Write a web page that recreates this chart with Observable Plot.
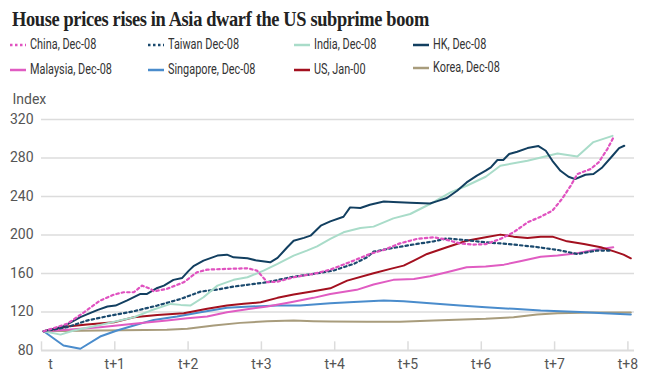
<!DOCTYPE html>
<html>
<head>
<meta charset="utf-8">
<script src="https://cdn.jsdelivr.net/npm/d3@7"></script>
<script src="https://cdn.jsdelivr.net/npm/@observablehq/plot@0.6"></script>
<style>
  html, body { margin: 0; padding: 0; background: #fff; }
  #wrap { position: relative; width: 651px; height: 383px; overflow: hidden; }
  #title { position: absolute; left: 12px; top: 9px; font-family: "Liberation Serif", serif; font-weight: bold; font-size: 21px; line-height: 21px; color: #222; white-space: nowrap; letter-spacing: -0.4px; transform: scaleX(0.875); transform-origin: 0 0; }
  .leg { position: absolute; font-family: Roboto, sans-serif; font-size: 14.5px; line-height: 16px; color: #333; white-space: nowrap; display: flex; align-items: center; }
  .leg svg { margin-right: 4px; }
  .leg span { display: inline-block; transform: scaleX(0.75); transform-origin: 0 50%; }
  #chart { position: absolute; left: 0; top: 85px; }
</style>
</head>
<body>
<div id="wrap">
  <div id="title">House prices rises in Asia dwarf the US subprime boom</div>
  <div id="legend"></div>
  <div id="chart"></div>
</div>
<script>
// ---- data (t = years from start, value = index) ----
const seriesNames = ["China, Dec-08", "Taiwan Dec-08", "India, Dec-08", "HK, Dec-08", "Malaysia, Dec-08", "Singapore, Dec-08", "US, Jan-00", "Korea, Dec-08"];
const seriesColors = ["#e052c0", "#1b4a6e", "#a9dcc9", "#123f60", "#e05cc2", "#4a8ccc", "#a3101f", "#a89c7c"];
const seriesDashed = [true, true, false, false, false, false, false, false];

const china = [[0.03,100],[0.35,107.7],[0.58,119.7],[0.80,131.9],[0.99,138.1],[1.12,140.5],[1.26,140.5],[1.37,147.4],[1.49,144],[1.53,141.5],[1.71,144],[1.94,150.9],[2.12,161.2],[2.26,164],[2.53,164.8],[2.81,165.4],[2.94,163],[3.08,151],[3.22,151.5],[3.44,156.1],[3.71,159.6],[3.94,164],[4.26,173.4],[4.48,180.3],[4.67,184.5],[4.89,191.3],[5.12,195.9],[5.35,197.6],[5.48,195.9],[5.71,191.3],[5.89,190],[6.06,190.5],[6.26,195.9],[6.44,202.8],[6.63,213.1],[6.81,219],[6.97,225.3],[7.10,237.4],[7.22,251.2],[7.31,263.3],[7.49,268.5],[7.60,275.4],[7.72,289.3],[7.80,301]];
const taiwan = [[0.03,100],[0.35,104.2],[0.62,111.1],[0.94,116.3],[1.26,120.8],[1.58,126.7],[1.90,133.6],[2.17,141.2],[2.40,143.3],[2.62,146.4],[2.90,149.2],[3.08,150.9],[3.40,156.1],[3.71,159.6],[3.98,163],[4.26,170],[4.44,176.8],[4.53,182.7],[4.80,186.6],[5.12,190.7],[5.35,193.4],[5.53,196.5],[5.76,194.9],[6.06,192.4],[6.35,190.7],[6.72,187.9],[7.04,184.5],[7.31,180.3],[7.58,183.8],[7.76,183.8]];
const india = [[0.03,100],[0.26,96.5],[0.44,100.8],[0.80,106.6],[1.26,114.6],[1.49,121.5],[1.76,128.4],[1.90,127.4],[2.03,126.7],[2.21,135.3],[2.40,147.4],[2.62,153.4],[2.81,156.1],[3.03,163],[3.22,170],[3.44,178.6],[3.62,183.8],[3.76,188.2],[3.94,195.9],[4.12,202.8],[4.35,207.3],[4.53,208.7],[4.80,217.3],[5.03,221.8],[5.30,232.2],[5.58,244.3],[5.80,251.2],[6.06,260.5],[6.26,272],[6.63,277.1],[7.04,284.7],[7.31,281.5],[7.53,296.5],[7.79,303]];
const hk = [[0.03,100],[0.30,105],[0.53,114.6],[0.76,122],[0.90,125.7],[1.01,126.7],[1.17,132],[1.35,138.8],[1.44,138.8],[1.58,145],[1.67,147.4],[1.80,153.4],[1.92,155.4],[2.01,163],[2.08,168],[2.21,173.4],[2.40,178.6],[2.53,179.6],[2.62,176.8],[2.81,175.8],[2.94,173.4],[3.12,171.6],[3.22,176.2],[3.35,187],[3.44,194],[3.58,197],[3.67,199.3],[3.81,209.7],[3.94,214.2],[4.12,219],[4.21,228.7],[4.35,228.1],[4.48,231.5],[4.67,234.9],[4.80,234.3],[5.03,233.6],[5.30,232.8],[5.39,234.9],[5.53,238.4],[5.67,246],[5.80,254.6],[5.94,261.6],[6.06,266.8],[6.13,270.2],[6.22,277.9],[6.30,277.9],[6.38,284.1],[6.49,286.5],[6.63,290.3],[6.78,292.4],[6.88,287.5],[6.97,277.1],[7.08,266.7],[7.19,260.5],[7.28,258.1],[7.42,262.6],[7.53,263.3],[7.65,270.2],[7.79,282.3],[7.88,290.3],[7.95,292.7]];
const malaysia = [[0.03,100],[0.35,101.5],[0.80,104.2],[1.26,107.7],[1.71,111.1],[1.99,113.5],[2.26,115.3],[2.53,119.7],[2.85,123.3],[3.08,125.7],[3.40,130.1],[3.71,134.7],[3.94,138.8],[4.30,143],[4.53,148.5],[4.80,153.4],[5.08,154.4],[5.30,157.1],[5.53,161.2],[5.80,166.4],[6.06,167.2],[6.31,169.2],[6.53,172.7],[6.81,177.5],[7.04,178.6],[7.31,181],[7.53,184.5],[7.80,187.2]];
const singapore = [[0.03,100],[0.30,85.2],[0.53,81.8],[0.80,94.5],[1.03,100.8],[1.26,105.9],[1.53,111.8],[1.85,115.3],[2.17,119.7],[2.53,124.3],[2.85,125.7],[3.22,126.7],[3.53,126.7],[3.94,129.1],[4.26,130.5],[4.67,131.9],[4.94,131.2],[5.30,129.1],[5.71,126.7],[6.06,124.9],[6.44,123.3],[6.81,121.5],[7.35,120.1],[7.67,118.7],[8.04,117.4]];
const us = [[0.03,100],[0.35,104.9],[0.62,107],[0.99,109.4],[1.26,114.6],[1.58,117],[1.94,118.7],[2.26,123.3],[2.53,126.7],[2.76,128.5],[2.99,130.1],[3.22,134.7],[3.44,138.1],[3.71,141.5],[3.94,144.6],[4.17,152.6],[4.53,160.2],[4.76,164.8],[4.94,168.2],[5.08,173.4],[5.26,180.3],[5.53,187.2],[5.80,194.1],[6.06,197.6],[6.26,200.4],[6.44,198.3],[6.63,196.9],[6.81,198.3],[6.97,198.3],[7.17,193.4],[7.40,190.7],[7.63,187.2],[7.81,183],[7.94,179.6],[8.04,175.8]];
const korea = [[0.03,100],[0.80,100.8],[1.71,101.5],[1.99,102.5],[2.35,105.9],[2.71,108.7],[3.08,110.4],[3.44,111.1],[3.71,110.4],[3.94,110.1],[4.44,109.8],[4.89,109.8],[5.35,111.1],[6.06,112.9],[6.44,114.6],[6.76,117.4],[7.04,118.7],[7.53,119.4],[8.04,119.4]];

const xTicks = [0, 1, 2, 3, 4, 5, 6, 7, 8];
const xTickLabels = ["t", "t+1", "t+2", "t+3", "t+4", "t+5", "t+6", "t+7", "t+8"];
const yTicks = [80, 120, 160, 200, 240, 280, 320];
const yLabel = "Index";

const seriesData = [china, taiwan, india, hk, malaysia, singapore, us, korea];
const drawOrder = [7, 5, 4, 6, 1, 2, 3, 0];

// ---- legend ----
const legendCols = [10, 148, 294, 413];
const legendRows = [37, 62];
const legend = document.getElementById("legend");
seriesNames.forEach((name, i) => {
  const col = i % 4, row = Math.floor(i / 4);
  const d = document.createElement("div");
  d.className = "leg";
  d.style.left = legendCols[col] + "px";
  d.style.top = (legendRows[row] - (i === 7 ? 2 : 0)) + "px";
  const dash = seriesDashed[i] ? 'stroke-dasharray="2.5,2.5"' : "";
  d.innerHTML = `<svg width="16" height="16"><line x1="0" x2="16" y1="8" y2="8" stroke="${seriesColors[i]}" stroke-width="2.5" ${dash}/></svg><span>${name}</span>`;
  legend.appendChild(d);
});

// ---- chart ----
const rows = seriesData.flatMap((arr, i) => arr.map(([t, v]) => ({series: seriesNames[i], t, v})));
const font = `Roboto, sans-serif`;

const marks = [
  Plot.gridY(yTicks.filter(d => d > 80), {stroke: "#dcdcdc", strokeOpacity: 1, strokeWidth: 1.5}),
  Plot.ruleY([80], {stroke: "#dcdcdc", strokeWidth: 2}),
  Plot.ruleX(xTicks, {y1: 80, y2: 89, stroke: "#dcdcdc", strokeWidth: 1.5}),
  Plot.axisY(yTicks, {tickSize: 0, tickPadding: 8, fontSize: 14, fill: "#555", label: null}),
  Plot.axisX(xTicks.slice(1), {tickSize: 0, tickPadding: 9, fontSize: 14, fill: "#555", label: null, tickFormat: d => xTickLabels[d]}),
  Plot.axisX([0], {tickSize: 0, tickPadding: 9, fontSize: 14, fill: "#555", label: null, dx: 9, tickFormat: d => xTickLabels[d]}),
  Plot.text([yLabel], {frameAnchor: "top-left", dx: -29, dy: -20, textAnchor: "start", lineAnchor: "middle", fontSize: 14, fill: "#555"})
];
drawOrder.forEach(i => {
  marks.push(Plot.line(rows.filter(r => r.series === seriesNames[i]), {
    x: "t", y: "v", stroke: seriesColors[i], strokeWidth: seriesDashed[i] ? 2.2 : 2,
    strokeDasharray: seriesDashed[i] ? "2.5,3" : null, strokeLinejoin: "round"
  }));
});

const chart = Plot.plot({
  width: 651,
  height: 298,
  marginLeft: 41,
  marginRight: 17,
  marginTop: 34,
  marginBottom: 33,
  style: {fontFamily: font, background: "#fff"},
  x: {domain: [0, 8.09], axis: null},
  y: {domain: [80, 320], axis: null},
  marks
});
document.getElementById("chart").appendChild(chart);
</script>
</body>
</html>
